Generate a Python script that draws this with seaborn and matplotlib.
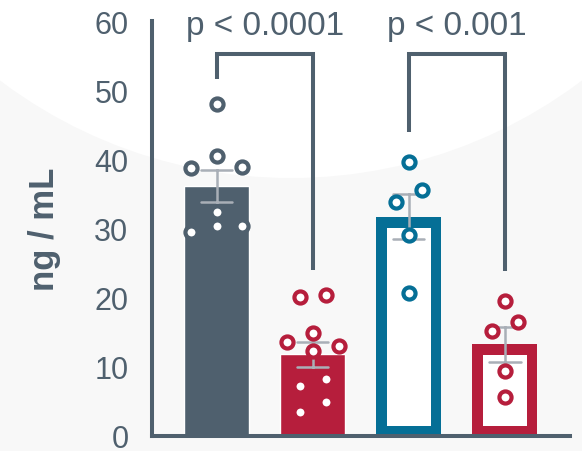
import numpy as np
import pandas as pd
import matplotlib
matplotlib.use("Agg")
import matplotlib.pyplot as plt
from matplotlib.patches import Ellipse
import seaborn as sns

# Measurements per group (ng/mL)
group_names = ["Group 1", "Group 2", "Group 3", "Group 4"]
values_g1 = [48.0, 40.5, 38.9, 38.8, 32.4, 30.4, 30.4, 29.5]
values_g2 = [20.1, 20.4, 14.9, 13.6, 13.0, 12.3, 8.2, 7.2, 4.9, 3.5]
values_g3 = [39.6, 35.5, 33.8, 29.0, 20.7]
values_g4 = [19.5, 16.5, 15.2, 9.4, 5.6]

# Horizontal arrangement slots for the individual points (scatter layout)
slots_g1 = [0, 0, 1, -1, 0, 0, 1, -1]
slots_g2 = [-0.5, 0.5, 0, -1, 1, 0, 0.5, -0.5, 0.5, -0.5]
slots_g3 = [0, 0.5, -0.5, 0, 0]
slots_g4 = [0, 0.5, -0.5, 0, 0]

# Comparisons and their labels
comparisons = [(0, 1), (2, 3)]
p_labels = ["p < 0.0001", "p < 0.001"]
y_ticks = [0, 10, 20, 30, 40, 50, 60]

SLATE = "#4f606e"
CRIMSON = "#b61e3c"
TEAL = "#056f96"
ERR_GRAY = "#a9afb7"
bar_colors = [SLATE, CRIMSON, TEAL, CRIMSON]
hollow = [False, False, True, True]

all_values = [values_g1, values_g2, values_g3, values_g4]
all_slots = [slots_g1, slots_g2, slots_g3, slots_g4]

df = pd.DataFrame({
    "group": np.repeat(group_names, [len(v) for v in all_values]),
    "value": np.concatenate(all_values),
})

sns.set_style("white")
plt.rcParams["font.family"] = ["Liberation Sans", "DejaVu Sans"]

W, H = 582, 452
fig, ax = plt.subplots(figsize=(W / 100, H / 100), dpi=100)
fig.subplots_adjust(left=152 / W, right=570 / W, bottom=(H - 437) / H, top=(H - 22) / H)
fig.patch.set_facecolor("#f8f8f8")
ax.set_facecolor("none")

# soft white arc in the upper background
bg = Ellipse((0.5, 1 + 304 / H), 2 * 483 / W, 2 * 483 / H,
             transform=fig.transFigure, facecolor="white", edgecolor="none", zorder=-5)
fig.add_artist(bg)

sns.barplot(data=df, x="group", y="value", hue="group", order=group_names,
            palette=dict(zip(group_names, bar_colors)), legend=False,
            errorbar="se", capsize=0.33, width=0.68, saturation=1,
            err_kws={"color": ERR_GRAY, "linewidth": 1.8, "zorder": 2.5}, ax=ax)

# hollow bars: thick inner stroke, white fill
stroke_px = 10.5
for patch, col, is_hollow in zip(ax.patches, bar_colors, hollow):
    if is_hollow:
        patch.set_facecolor("white")
        patch.set_edgecolor(col)
        patch.set_linewidth(2 * stroke_px * 0.72)
        patch.set_clip_path(patch)
    patch.set_zorder(1)

STEP = 0.27
for i, (vals, slots) in enumerate(zip(all_values, all_slots)):
    xs = i + np.asarray(slots) * STEP
    sns.scatterplot(x=xs, y=vals, color="white", edgecolor=bar_colors[i],
                    linewidth=3.0, s=76, zorder=3, legend=False, ax=ax)

# significance brackets
bracket_top = 55.2
leg_gap = [3.6, 4.4]
for (a, b), lab, gap in zip(comparisons, p_labels, leg_gap):
    ya = max(all_values[a]) + gap
    yb = max(all_values[b]) + gap
    ax.plot([a, a, b, b], [ya, bracket_top, bracket_top, yb], color=SLATE,
            linewidth=2.9, solid_joinstyle="miter", solid_capstyle="butt",
            clip_on=False, zorder=4)
    ax.text((a + b) / 2, 58.1, lab, ha="center", va="baseline",
            fontsize=24, color=SLATE, clip_on=False)

ax.set_ylim(0, 60)
ax.set_xlim(-0.672, 3.68)
ax.set_yticks(y_ticks)
ax.set_xticks([])
ax.set_xlabel("")
ax.set_ylabel("")
ax.tick_params(axis="y", length=0, pad=17, labelsize=22, labelcolor=SLATE)

for side in ["top", "right"]:
    ax.spines[side].set_visible(False)
for side in ["left", "bottom"]:
    ax.spines[side].set_linewidth(2.9)
    ax.spines[side].set_color(SLATE)

ax.text((44 - 152) / 418, 0.5, "ng / mL", transform=ax.transAxes, rotation=90,
        ha="center", va="center", fontsize=25, fontweight="bold", color=SLATE)

fig.savefig("out.png", dpi=100, facecolor=fig.get_facecolor())
